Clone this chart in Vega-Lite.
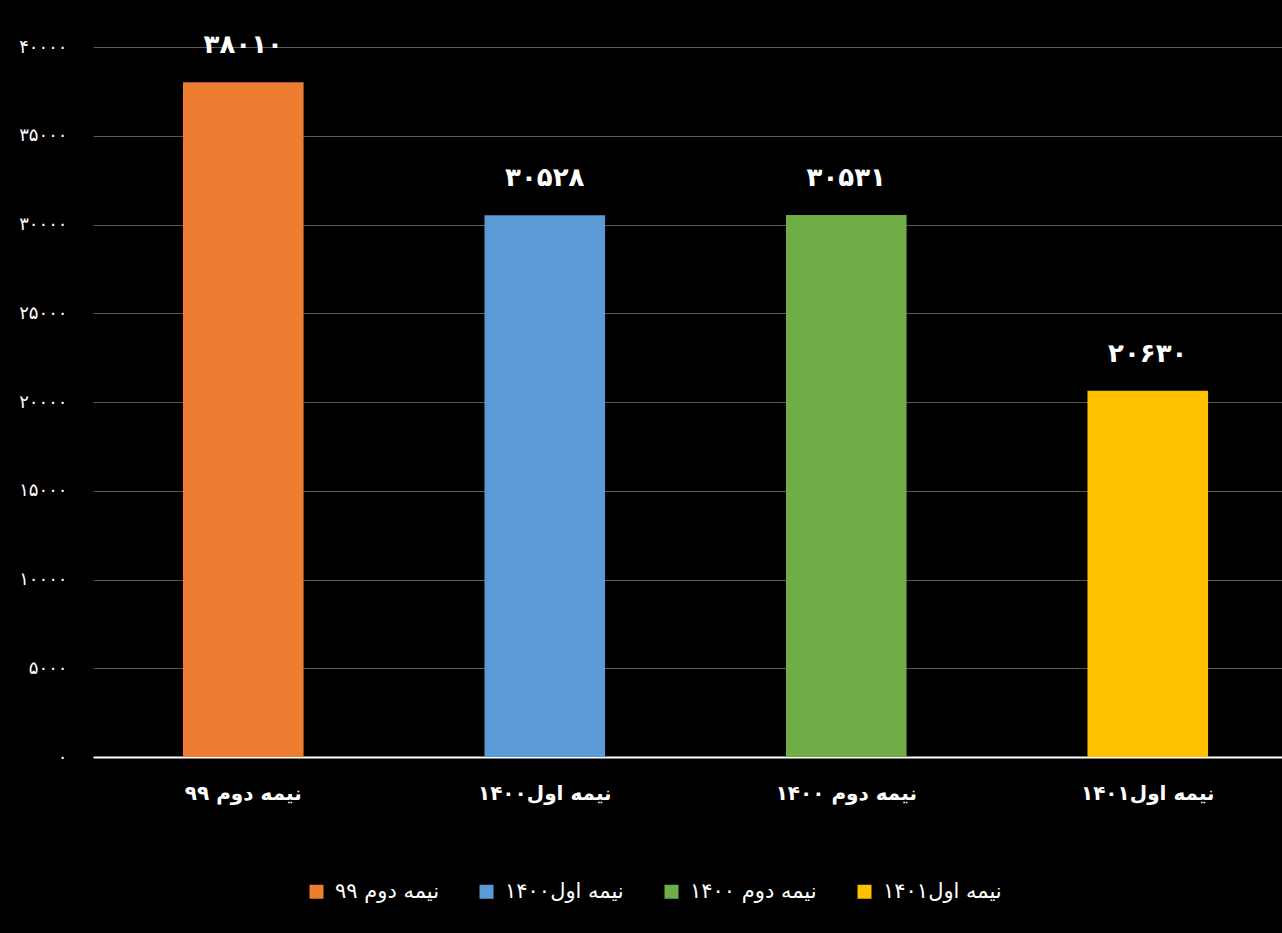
{
  "$schema": "https://vega.github.io/schema/vega-lite/v6.json",
  "width": 1189,
  "height": 710,
  "autosize": {"type": "none"},
  "padding": {"left": 93, "top": 47, "right": 0, "bottom": 176},
  "background": "#000000",
  "config": {"view": {"stroke": null}, "font": "DejaVu Sans"},
  "data": {
    "values": [
      {"period": "نیمه دوم ۹۹", "value": 38010, "label": "۳۸۰۱۰"},
      {"period": "نیمه اول۱۴۰۰", "value": 30528, "label": "۳۰۵۲۸"},
      {"period": "نیمه دوم ۱۴۰۰", "value": 30531, "label": "۳۰۵۳۱"},
      {"period": "نیمه اول۱۴۰۱", "value": 20630, "label": "۲۰۶۳۰"}
    ]
  },
  "encoding": {
    "x": {
      "field": "period",
      "type": "nominal",
      "sort": null,
      "scale": {"paddingInner": 0.6, "paddingOuter": 0.2718, "align": 0.549},
      "axis": {
        "title": null,
        "labelAngle": 0,
        "ticks": false,
        "grid": false,
        "domainColor": "#ffffff",
        "domainWidth": 2,
        "labelColor": "#ffffff",
        "labelFontSize": 20,
        "labelFontWeight": "bold",
        "labelPadding": 26
      }
    },
    "y": {
      "field": "value",
      "type": "quantitative",
      "scale": {"domain": [0, 40000]},
      "axis": {
        "title": null,
        "values": [0, 5000, 10000, 15000, 20000, 25000, 30000, 35000, 40000],
        "format": "d",
        "labelExpr": "replace(replace(replace(replace(replace(replace(datum.label, regexp('0','g'), '۰'), regexp('1','g'), '۱'), regexp('2','g'), '۲'), regexp('3','g'), '۳'), regexp('4','g'), '۴'), regexp('5','g'), '۵')",
        "ticks": false,
        "domain": false,
        "gridColor": "#595959",
        "gridWidth": 1,
        "labelColor": "#ffffff",
        "labelFontSize": 18,
        "labelPadding": 26
      }
    }
  },
  "layer": [
    {
      "mark": {"type": "bar"},
      "encoding": {
        "color": {
          "field": "period",
          "type": "nominal",
          "sort": null,
          "scale": {
            "domain": ["نیمه دوم ۹۹", "نیمه اول۱۴۰۰", "نیمه دوم ۱۴۰۰", "نیمه اول۱۴۰۱"],
            "range": ["#ED7D31", "#5B9BD5", "#70AD47", "#FFC000"]
          },
          "legend": {
            "title": null,
            "orient": "none",
            "legendX": 213,
            "legendY": 834,
            "direction": "horizontal",
            "symbolType": "square",
            "symbolSize": 196,
            "symbolStrokeWidth": 0,
            "labelColor": "#ffffff",
            "labelFontSize": 21,
            "labelOffset": 8,
            "columnPadding": 37
          }
        }
      }
    },
    {
      "mark": {"type": "text", "dy": -37, "fontSize": 26, "fontWeight": "bold", "color": "#ffffff", "baseline": "middle"},
      "encoding": {"text": {"field": "label", "type": "nominal"}}
    }
  ]
}
